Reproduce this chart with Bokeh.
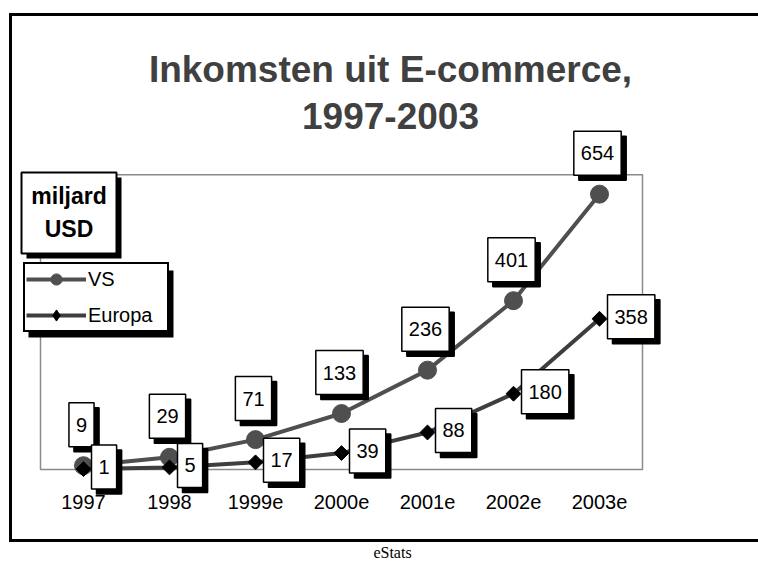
import numpy as np
from bokeh.plotting import figure
from bokeh.models import (Range1d, LinearAxis, FixedTicker, Label, BoxAnnotation,
                          Legend, LegendItem, ColumnDataSource)
from bokeh.embed import file_html
from bokeh.resources import INLINE

# ---------------- data ----------------
categories = ["1997", "1998", "1999e", "2000e", "2001e", "2002e", "2003e"]
vs_values = [9, 29, 71, 133, 236, 401, 654]
europa_values = [1, 5, 17, 39, 88, 180, 358]
series_names = ["VS", "Europa"]
title_lines = ["Inkomsten uit E-commerce,", "1997-2003"]
unit_lines = ["miljard", "USD"]
source_text = "eStats"
y_top = 700

# ---------------- layout ----------------
W, H = 758, 561
CAT_PX = 86.0
CAT0_PX = 83.0
UNIT_PX = 0.421
ZERO_PY = 469.0
FONT = "Liberation Sans"
VS_COLOR = "#4f4f4f"
EU_LINE = "#3e3e3e"


def X(px):
    return (px - CAT0_PX) / CAT_PX


def Y(py):
    return (ZERO_PY - py) / UNIT_PX


x_idx = list(range(len(categories)))

p = figure(width=W, height=H, output_backend="svg", toolbar_location=None,
           x_range=Range1d(X(0), X(W)), y_range=Range1d(Y(H), Y(0)),
           x_axis_location=None, y_axis_location=None, min_border=0, title=None)
p.outline_line_color = None
p.background_fill_color = "white"
p.border_fill_color = "white"
for g in p.grid:
    g.visible = False


def box(x0, y0, x1, y1, fill, line=None, lw=0, level="annotation"):
    b = BoxAnnotation(left=X(x0), right=X(x1), top=Y(y0), bottom=Y(y1),
                      fill_color=fill, fill_alpha=1, line_color=line, line_width=lw,
                      line_alpha=1, line_dash="solid", level=level)
    p.add_layout(b)
    return b


# outer black frame (top, left, bottom bars; right side lies off-page)
box(8.5, 12.5, 800, 15.5, "black", level="underlay")
box(8.5, 12.5, 11.5, 541.5, "black", level="underlay")
box(8.5, 538.5, 800, 541.5, "black", level="underlay")
# grey plot area
p.add_layout(BoxAnnotation(left=-0.5, right=len(categories) - 0.5, bottom=0, top=y_top,
                           fill_color=None, line_color="#8a8a8a", line_width=1.5,
                           line_dash="solid", line_alpha=1, level="underlay"))

src = ColumnDataSource(dict(x=x_idx, vs=vs_values, eu=europa_values))
vs_line = p.line("x", "vs", source=src, line_color=VS_COLOR, line_width=4)
vs_pts = p.scatter("x", "vs", source=src, marker="circle", size=18,
                   fill_color=VS_COLOR, line_color=VS_COLOR)
eu_line = p.line("x", "eu", source=src, line_color=EU_LINE, line_width=4)
# diamond symbol (used for the legend key; fully covered by the rotated squares)
eu_key = p.scatter("x", "eu", source=src, marker="diamond", size=12,
                   fill_color="black", line_color="black")
eu_pts = p.scatter("x", "eu", source=src, marker="square", angle=np.pi / 4, size=10.5,
                   fill_color="black", line_color="black")

# x axis at y = 0
xaxis = LinearAxis(ticker=FixedTicker(ticks=x_idx), fixed_location=0,
                   major_label_overrides={i: c for i, c in zip(x_idx, categories)},
                   axis_line_color=None, major_tick_line_color=None,
                   minor_tick_line_color=None, major_tick_out=0, major_tick_in=0,
                   major_label_standoff=25, major_label_text_font=FONT,
                   major_label_text_font_size="20px", major_label_text_color="black")
p.add_layout(xaxis, "below")

# title
for txt, mid in zip(title_lines, [69, 115]):
    p.add_layout(Label(x=X(390), y=Y(mid), text=txt, text_align="center",
                       text_baseline="middle", text_font=FONT, text_font_size="37px",
                       text_font_style="bold", text_color="#404040"))

# unit box
box(26, 177, 121, 258, "black")
box(21, 172, 116, 253, "white", "black", 2)
for txt, mid in zip(unit_lines, [195, 228]):
    p.add_layout(Label(x=X(68.5), y=Y(mid), text=txt, text_align="center",
                       text_baseline="middle", text_font=FONT, text_font_size="23px",
                       text_font_style="bold", text_color="black"))

# legend
box(28, 270, 173, 337, "black")
legend = Legend(items=[LegendItem(label=series_names[0], renderers=[vs_line, vs_pts]),
                       LegendItem(label=series_names[1], renderers=[eu_line, eu_key])],
                location=(23, H - 332), orientation="vertical", padding=1, spacing=8,
                glyph_width=60, glyph_height=28, label_standoff=2, label_width=78,
                label_height=20, label_text_font=FONT, label_text_font_size="20px",
                label_text_color="black",
                border_line_color="black", border_line_width=2, border_line_alpha=1,
                background_fill_color="white", background_fill_alpha=1, margin=0)
p.add_layout(legend)

# value labels
PAD = dict(left=7, right=7, top=15, bottom=15)


def value_label(x, y, v, dx, dy, align):
    for sx, sy, bg in [(5, -5, "black"), (0, 0, "white")]:
        p.add_layout(Label(x=x, y=y, text=str(v), x_offset=dx + sx, y_offset=dy + sy,
                           text_align=align, text_baseline="middle",
                           background_fill_color=bg, background_fill_alpha=1,
                           border_line_color="black", border_line_width=1.5,
                           padding=PAD, text_font=FONT, text_font_size="20px",
                           text_color="black"))


for xi, v in zip(x_idx, vs_values):
    value_label(xi, v, v, -2, 41, "center")
for xi, v in zip(x_idx, europa_values):
    value_label(xi, v, v, 8, 2, "left")

# source
p.add_layout(Label(x=X(392), y=Y(552), text=source_text, text_align="center",
                   text_baseline="middle", text_font="Liberation Serif",
                   text_font_size="16px", text_color="black"))

open("out.html", "w").write(file_html(p, INLINE))
